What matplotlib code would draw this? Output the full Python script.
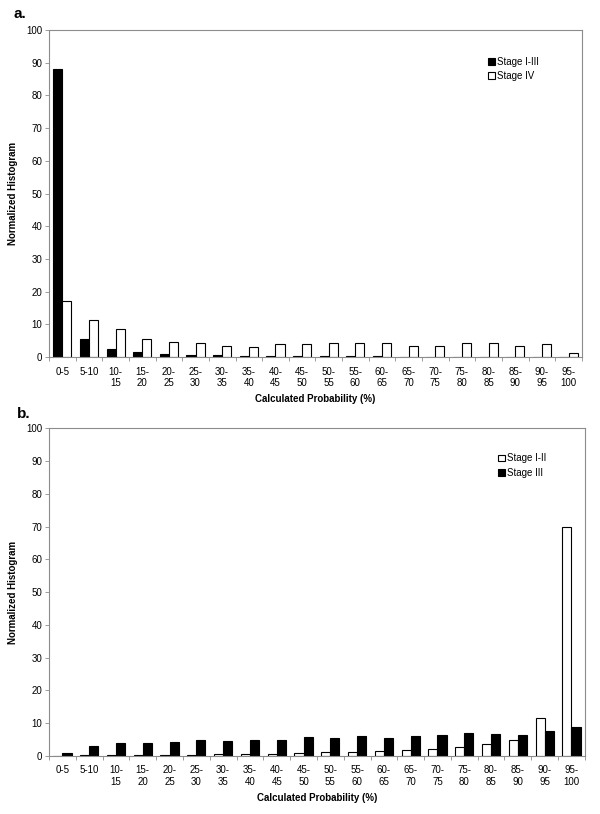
import numpy as np
import matplotlib.pyplot as plt

plt.rcParams['font.family'] = ['Liberation Sans', 'DejaVu Sans']

bins = ['0-5', '5-10', '10-\n15', '15-\n20', '20-\n25', '25-\n30', '30-\n35', '35-\n40',
        '40-\n45', '45-\n50', '50-\n55', '55-\n60', '60-\n65', '65-\n70', '70-\n75',
        '75-\n80', '80-\n85', '85-\n90', '90-\n95', '95-\n100']

# panel a
stage_1_3 = [88.0, 5.6, 2.5, 1.4, 0.9, 0.7, 0.5, 0.4, 0.3, 0.2,
             0.2, 0.2, 0.2, 0.1, 0.1, 0.1, 0.1, 0.1, 0.1, 0.0]
stage_4 = [17.1, 11.3, 8.5, 5.6, 4.6, 4.2, 3.5, 3.1, 4.0, 4.0,
           4.2, 4.4, 4.2, 3.5, 3.3, 4.4, 4.2, 3.5, 3.9, 1.3]

# panel b
stage_1_2 = [0.0, 0.1, 0.2, 0.2, 0.2, 0.3, 0.4, 0.4, 0.6, 0.7,
             1.1, 1.2, 1.5, 1.8, 2.2, 2.7, 3.6, 4.8, 11.4, 69.8]
stage_3 = [0.9, 3.1, 4.0, 3.9, 4.2, 4.9, 4.6, 4.7, 4.9, 5.6,
           5.3, 6.0, 5.3, 5.9, 6.4, 7.0, 6.7, 6.2, 7.5, 8.8]

x = np.arange(len(bins))
w = 0.34
grey = '#8c8c8c'


def style_axes(ax):
    ax.set_xlim(-0.5, len(bins) - 0.5)
    ax.set_ylim(0, 100)
    ax.set_yticks(range(0, 101, 10))
    ax.set_xticks(x)
    ax.set_xticklabels(bins, fontsize=7, linespacing=1.2)
    ax.set_xticks(np.arange(-0.5, len(bins), 1), minor=True)
    ax.tick_params(axis='x', which='major', length=0, pad=7)
    ax.tick_params(axis='x', which='minor', length=3, color=grey, width=0.6)
    ax.tick_params(axis='y', length=3, color=grey, width=0.6, labelsize=7, pad=2)
    for s in ax.spines.values():
        s.set_color(grey)
        s.set_linewidth(0.8)
    ax.set_ylabel('Normalized Histogram', fontsize=7, fontweight='bold', labelpad=6)
    ax.set_xlabel('Calculated Probability (%)', fontsize=7, fontweight='bold', labelpad=4)


fig = plt.figure(figsize=(6, 8.14), dpi=100)

ax1 = fig.add_axes([0.0817, 0.5614, 0.888, 0.4017])
ax1.bar(x - w / 2, stage_1_3, w, color='black', edgecolor='black', linewidth=0.8, label='Stage I-III')
ax1.bar(x + w / 2, stage_4, w, color='white', edgecolor='black', linewidth=0.8, label='Stage IV')
style_axes(ax1)
ax1.legend(loc='upper left', bbox_to_anchor=(0.808, 0.945), frameon=False, fontsize=7,
           handlelength=0.7, handleheight=0.7, handletextpad=0.2, labelspacing=0.45)
fig.text(0.022, 0.983, 'a.', fontsize=11, fontweight='bold', va='center')

ax2 = fig.add_axes([0.0817, 0.0716, 0.893, 0.4022])
ax2.bar(x - w / 2, stage_1_2, w, color='white', edgecolor='black', linewidth=0.8, label='Stage I-II')
ax2.bar(x + w / 2, stage_3, w, color='black', edgecolor='black', linewidth=0.8, label='Stage III')
style_axes(ax2)
ax2.legend(loc='upper left', bbox_to_anchor=(0.822, 0.95), frameon=False, fontsize=7,
           handlelength=0.7, handleheight=0.7, handletextpad=0.2, labelspacing=0.45)
fig.text(0.028, 0.492, 'b.', fontsize=11, fontweight='bold', va='center')

fig.savefig('out.png', dpi=100)
